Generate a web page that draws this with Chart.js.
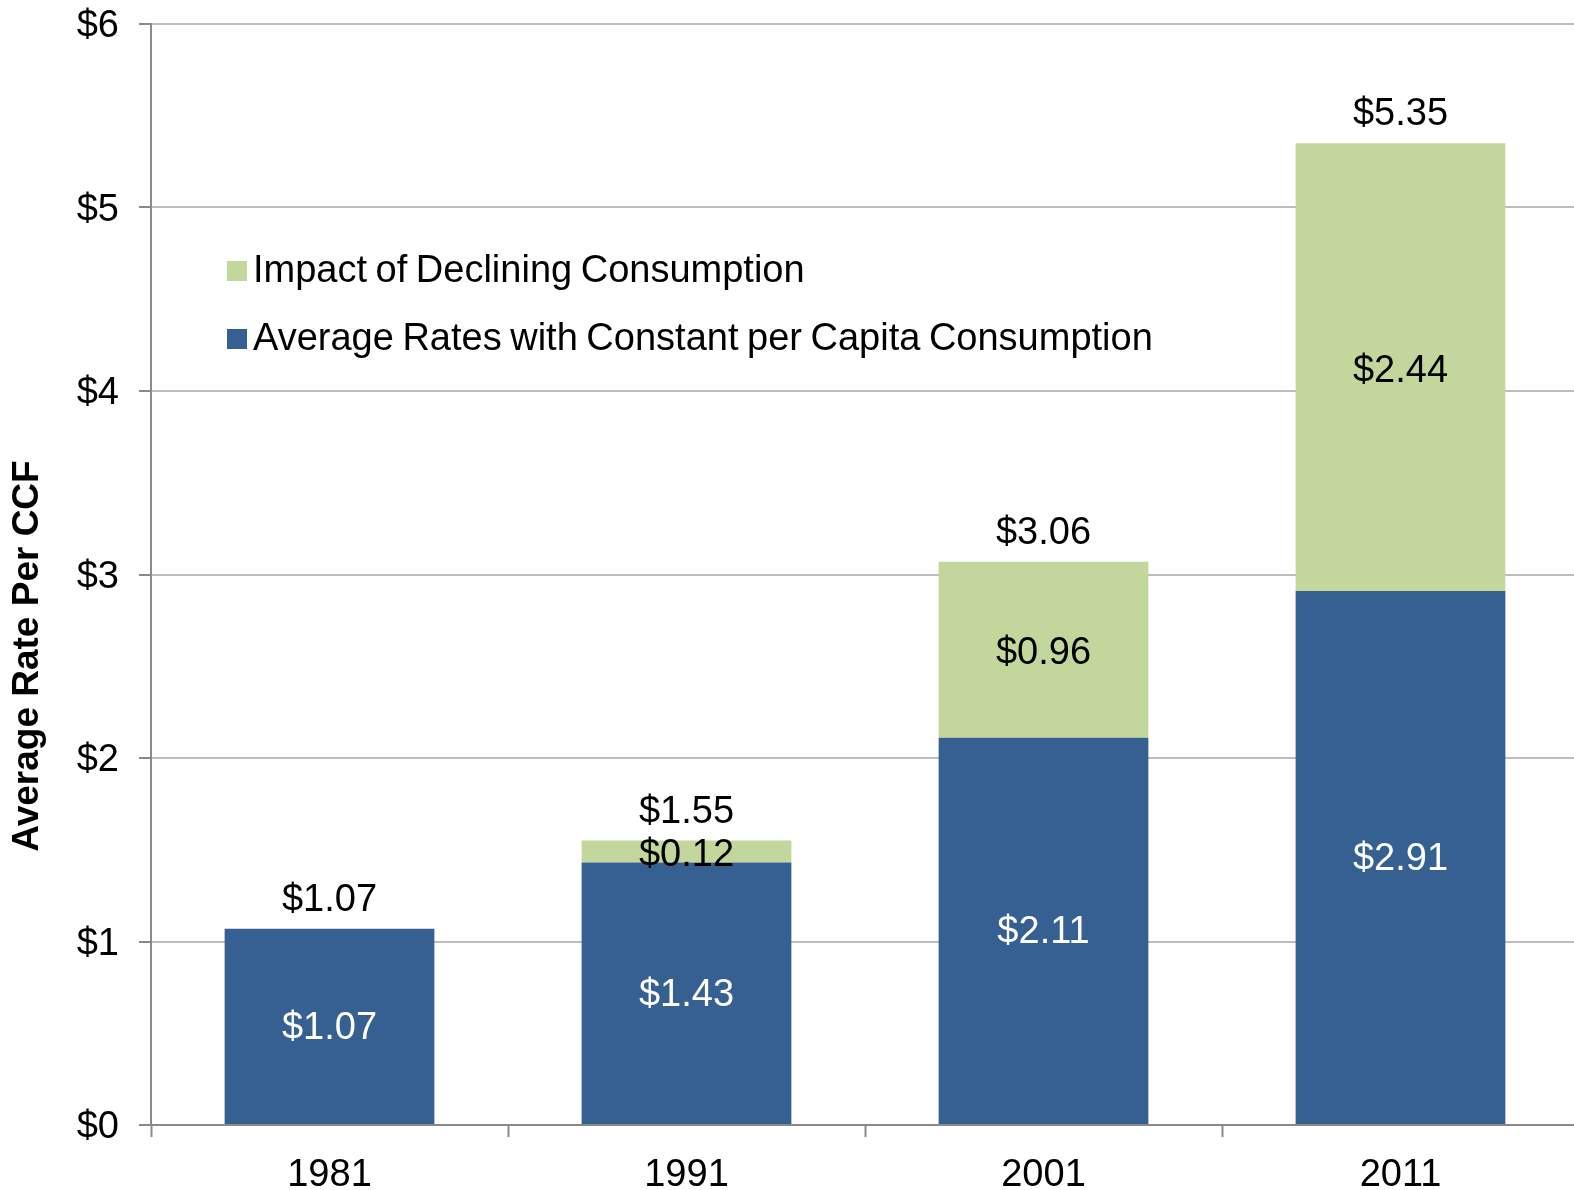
<!DOCTYPE html>
<html>
<head>
<meta charset="utf-8">
<script src="https://cdn.jsdelivr.net/npm/chart.js@4.4.1/dist/chart.umd.min.js"></script>
<style>
  html, body { margin: 0; padding: 0; background: #ffffff; overflow: hidden; }
  #wrap { width: 1574px; height: 1190px; position: relative; overflow: hidden; }
</style>
</head>
<body>
<div id="wrap"><canvas id="c" width="1579" height="1190"></canvas></div>
<script>
const categories = ['1981', '1991', '2001', '2011'];
const baseRates = [1.07, 1.43, 2.11, 2.91];
const decliningImpact = [0, 0.12, 0.96, 2.44];
const totalLabels = ['$1.07', '$1.55', '$3.06', '$5.35'];
const baseLabels = ['$1.07', '$1.43', '$2.11', '$2.91'];
const impactLabels = ['', '$0.12', '$0.96', '$2.44'];
const seriesNames = ['Average Rates with Constant per Capita Consumption', 'Impact of Declining Consumption'];
const yTitle = 'Average Rate Per CCF';

const BLUE = '#376092';
const GREEN = '#C3D69B';
const FONT = '"Liberation Sans", Arial, sans-serif';

const labelPlugin = {
  id: 'labels',
  afterDatasetsDraw(chart) {
    const ctx = chart.ctx;
    const m0 = chart.getDatasetMeta(0).data;
    const m1 = chart.getDatasetMeta(1).data;
    ctx.save();
    ctx.font = '38px ' + FONT;
    ctx.textAlign = 'center';
    ctx.textBaseline = 'middle';
    m0.forEach((bar, i) => {
      ctx.fillStyle = '#ffffff';
      ctx.fillText(baseLabels[i], bar.x, (bar.y + bar.base) / 2 + 2);
      const g = m1[i];
      if (decliningImpact[i] > 0) {
        ctx.fillStyle = '#000000';
        ctx.fillText(impactLabels[i], g.x, (g.y + g.base) / 2 + 4);
      }
      const top = decliningImpact[i] > 0 ? g.y : bar.y;
      ctx.fillStyle = '#000000';
      ctx.textBaseline = 'alphabetic';
      ctx.fillText(totalLabels[i], bar.x, top - 18);
      ctx.textBaseline = 'middle';
    });
    // legend
    const rows = [{ c: GREEN, t: seriesNames[1], y: 271 }, { c: BLUE, t: seriesNames[0], y: 339 }];
    ctx.textAlign = 'left';
    try { ctx.wordSpacing = '-2px'; } catch (e) {}
    rows.forEach(r => {
      ctx.fillStyle = r.c;
      ctx.fillRect(227, r.y - 10, 20, 20);
      ctx.fillStyle = '#000000';
      ctx.fillText(r.t, 253, r.y + 1);
    });
    try { ctx.wordSpacing = '0px'; } catch (e) {}
    // y title
    ctx.translate(28, 656);
    ctx.rotate(-Math.PI / 2);
    ctx.textAlign = 'center';
    ctx.font = 'bold 37px ' + FONT;
    ctx.fillText(yTitle, 0, 0);
    ctx.restore();
  }
};

new Chart(document.getElementById('c'), {
  type: 'bar',
  data: {
    labels: categories,
    datasets: [
      { label: seriesNames[0], data: baseRates, backgroundColor: BLUE, stack: 's' },
      { label: seriesNames[1], data: decliningImpact, backgroundColor: GREEN, stack: 's' }
    ]
  },
  options: {
    responsive: false,
    animation: false,
    devicePixelRatio: 1,
    layout: { padding: { top: 24, right: 0, left: 0, bottom: 0 } },
    plugins: { legend: { display: false }, tooltip: { enabled: false } },
    datasets: { bar: { categoryPercentage: 1, barPercentage: 0.5875 } },
    scales: {
      x: {
        stacked: true,
        afterFit(s) { s.height = 65; s.paddingLeft = 0; s.paddingRight = 0; },
        grid: { offset: true, drawOnChartArea: false, drawTicks: true, tickLength: 12, tickColor: '#8a8a8a', tickWidth: 2 },
        border: { color: '#8a8a8a', width: 2 },
        ticks: { color: '#000000', font: { family: FONT, size: 38 }, padding: 16 }
      },
      y: {
        stacked: true,
        min: 0, max: 6,
        afterFit(s) { s.width = 151; s.paddingTop = 0; s.paddingBottom = 0; },
        grid: { color: '#bdbdbd', lineWidth: 2, tickLength: 12, tickColor: '#8a8a8a', tickWidth: 2 },
        border: { color: '#8a8a8a', width: 2 },
        ticks: { stepSize: 1, color: '#000000', font: { family: FONT, size: 38, lineHeight: 0.5 }, padding: 20,
                 labelOffset: 3, callback: v => '$' + v }
      }
    }
  },
  plugins: [labelPlugin]
});
</script>
</body>
</html>
